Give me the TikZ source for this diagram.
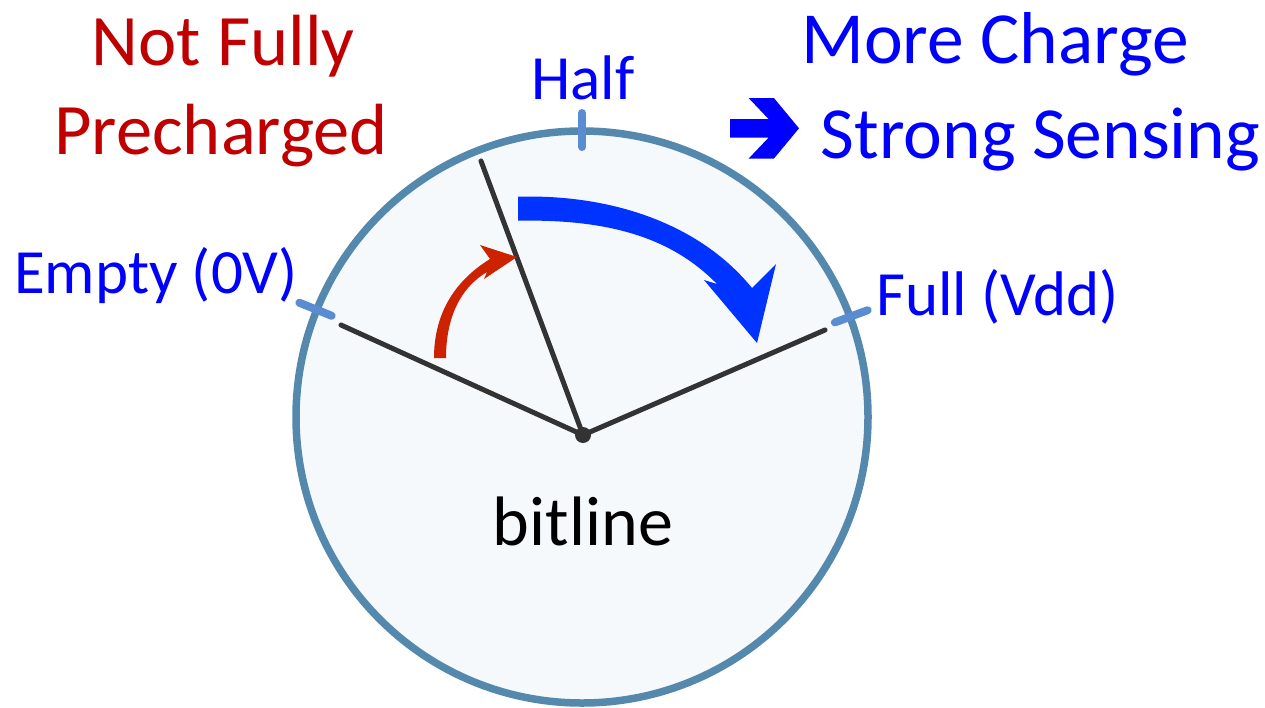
\documentclass[tikz,border=0pt]{standalone}
\usepackage{fontspec}
\setmainfont{Carlito}
\definecolor{dialstroke}{RGB}{84,136,172}
\definecolor{dialfill}{RGB}{245,249,252}
\definecolor{tickblue}{RGB}{90,140,210}
\definecolor{needlegray}{RGB}{51,51,51}
\definecolor{redarrow}{RGB}{204,34,0}
\definecolor{bluearrow}{RGB}{0,51,255}
\definecolor{textblue}{RGB}{0,0,255}
\definecolor{textred}{RGB}{192,0,0}
\tikzset{
  bigred/.style={text=textred, inner sep=0pt, anchor=base, font=\fontsize{72.5}{86}\selectfont},
  bigblue/.style={text=textblue, inner sep=0pt, anchor=base, font=\fontsize{73.5}{86}\selectfont},
  gaugelabel/.style={text=textblue, inner sep=0pt, font=\fontsize{63}{72}\selectfont},
  tickmark/.style={draw=tickblue, line width=8pt, line cap=round},
  needle/.style={draw=needlegray, line width=5pt, line cap=round},
}
\begin{document}
\begin{tikzpicture}[x=1pt,y=-1pt]
\useasboundingbox (0,0) rectangle (1265,707);
% dial
\node[circle, draw=dialstroke, fill=dialfill, line width=7.5pt, minimum size=572pt, inner sep=0pt] (dial) at (582,417) {};
% ticks
\draw[tickmark] (582,147) -- (582,113);
\draw[tickmark] (331.7,315.8) -- (299.3,302.7);
\draw[tickmark] (834.9,322.4) -- (867.7,310.2);
% needles
\node[circle, fill=needlegray, minimum size=16pt, inner sep=0pt] (pivot) at (583,435) {};
\coordinate (emptyend) at (341,325);
\coordinate (fullend) at (825,330);
\coordinate (midend) at (481,161);
\draw[needle] (pivot.center) -- (emptyend);
\draw[needle] (pivot.center) -- (fullend);
\draw[needle] (pivot.center) -- (midend);
% red curved arrow
\fill[redarrow] (434,358) .. controls (434,312) and (456,280) .. (490,259)
  -- (480,245) -- (517,257) -- (484,279) -- (487,272)
  .. controls (460,288) and (446,318) .. (446,358) -- cycle;
% blue curved arrow
\fill[bluearrow] (518,196.7) .. controls (612,194) and (700,224) .. (752,288)
  -- (776,264) -- (757,343) -- (704,280) -- (717,284)
  .. controls (672,238) and (610,219) .. (518,220.7) -- cycle;
% right arrow symbol
\fill[textblue] (748.6,98) -- (773.9,98) -- (799,128.3) -- (773.9,158.6) -- (748.6,158.6)
  -- (768.5,137.7) -- (730,137.7) -- (730,119) -- (768.5,119) -- cycle;
% texts
\node[bigred] (nf1) at (223,65) {Not Fully};
\node[bigred] (nf2) at (221,154) {Precharged};
\node[bigblue] (mc1) at (995,63) {More Charge};
\node[bigblue] (mc2) at (1040.5,158.6) {Strong Sensing};
\node[gaugelabel, anchor=base] (half) at (583,99.5) {Half};
\node[gaugelabel, anchor=base west] (empty) at (14,293) {Empty (0V)};
\node[gaugelabel, anchor=base west] (full) at (876,315) {Full (Vdd)};
\node[inner sep=0pt, anchor=base, font=\fontsize{70}{80}\selectfont] (bitline) at (583,545) {bitline};
\end{tikzpicture}
\end{document}
